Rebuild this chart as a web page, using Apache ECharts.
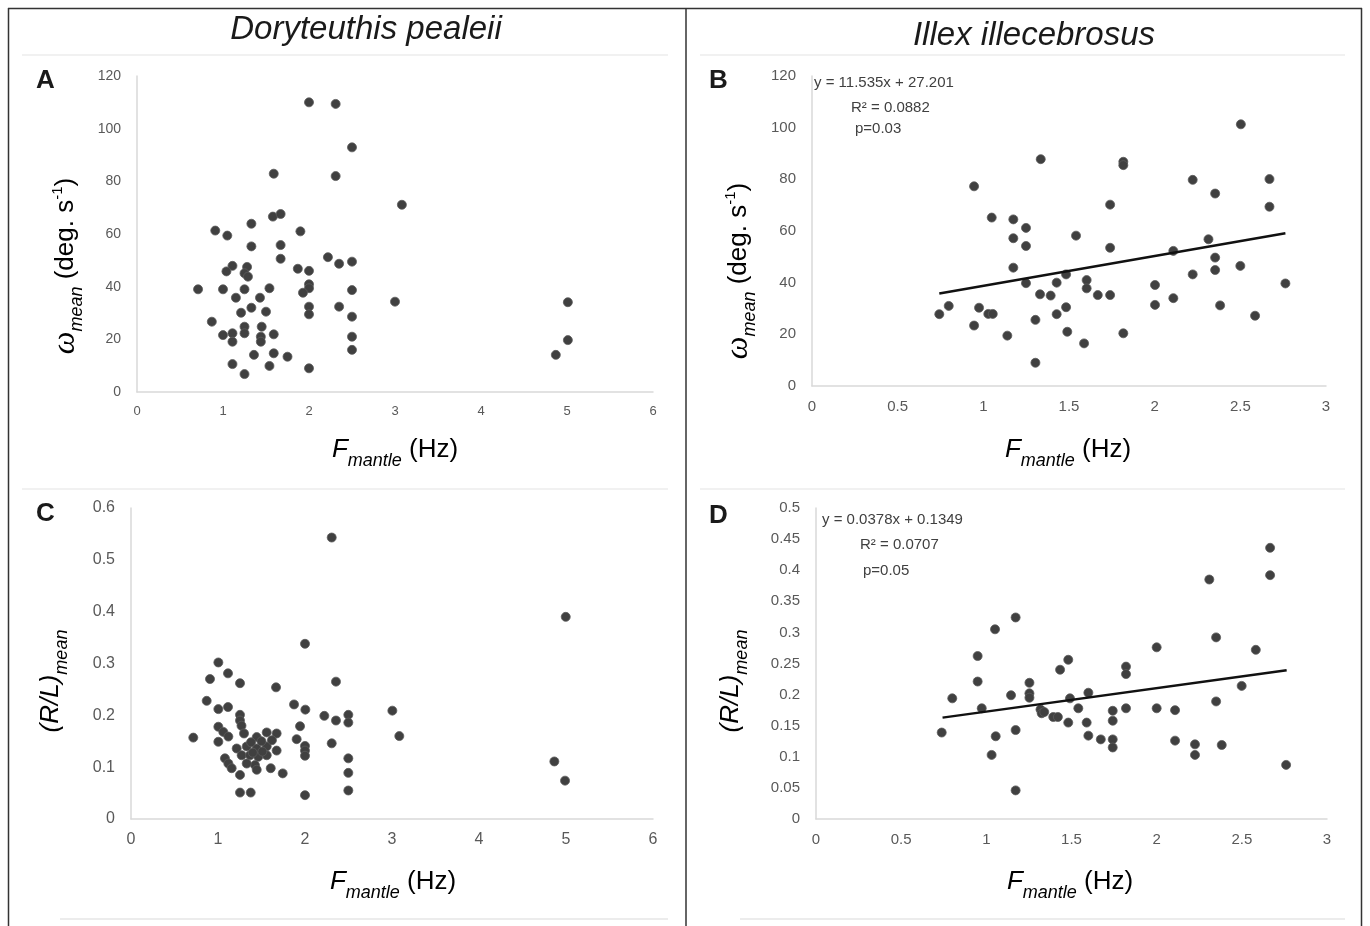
<!DOCTYPE html>
<html>
<head>
<meta charset="utf-8">
<script src="https://cdn.jsdelivr.net/npm/echarts@6/dist/echarts.min.js"></script>
<style>
html, body { margin: 0; padding: 0; background: #fff; }
#chart { width: 1370px; height: 926px; }
</style>
</head>
<body>
<div id="chart"></div>
<script>
// Doryteuthis pealeii: F_mantle (Hz) vs omega_mean (deg/s)
var pealeiiOmega = [
    [2.00,110.0],[2.31,109.4],[2.50,92.9],[1.59,82.9],[2.31,82.0],[3.08,71.1],[1.58,66.6],[1.67,67.6],
    [1.33,63.9],[0.91,61.3],[1.05,59.4],[1.90,61.0],[1.33,55.3],[1.67,55.8],[1.67,50.6],[2.22,51.2],
    [2.35,48.7],[2.50,49.5],[1.87,46.8],[2.00,46.0],[1.11,47.9],[1.04,45.8],[1.28,47.5],[1.25,45.1],
    [1.29,43.8],[0.71,39.0],[1.00,39.0],[1.25,39.0],[1.54,39.4],[1.15,35.8],[1.43,35.8],[2.00,40.9],
    [2.00,39.4],[1.93,37.7],[2.50,38.7],[3.00,34.3],[1.21,30.1],[1.33,32.0],[1.50,30.5],[2.00,32.4],
    [2.00,29.5],[2.35,32.4],[2.50,28.6],[0.87,26.7],[1.25,24.8],[1.25,22.3],[1.45,24.8],[1.00,21.6],
    [1.11,22.3],[1.11,19.1],[1.44,21.0],[1.44,19.1],[1.59,21.9],[2.50,21.0],[2.50,16.0],[1.36,14.1],
    [1.59,14.7],[1.75,13.4],[1.11,10.6],[1.25,6.8],[1.54,9.9],[2.00,9.0],[5.01,34.1],[5.01,19.7],
    [4.87,14.1]
];

// Illex illecebrosus: F_mantle (Hz) vs omega_mean (deg/s)
var illexOmega = [
    [1.335,87.8],[0.946,77.3],[1.049,65.2],[1.175,64.5],[1.249,61.2],[1.175,57.2],[1.249,54.2],[1.175,45.8],
    [1.249,39.8],[1.331,35.5],[1.393,35.0],[1.428,40.0],[1.483,43.2],[1.483,30.5],[1.428,27.8],[1.490,21.0],
    [0.743,27.8],[0.798,31.0],[0.975,30.3],[1.029,27.9],[1.055,27.9],[0.946,23.4],[1.140,19.5],[1.304,25.6],
    [1.304,9.0],[2.503,101.3],[1.817,86.8],[1.817,85.5],[2.222,79.8],[2.670,80.1],[2.353,74.5],[2.670,69.4],
    [1.740,70.2],[1.541,58.2],[1.740,53.5],[2.314,56.8],[2.109,52.3],[2.353,49.7],[2.353,44.9],[2.222,43.2],
    [2.500,46.5],[2.763,39.7],[1.603,41.0],[1.603,37.8],[1.668,35.2],[1.740,35.2],[2.002,39.1],[2.002,31.4],
    [2.109,34.0],[2.382,31.2],[2.586,27.2],[1.588,16.5],[1.817,20.4]
];
var illexOmegaTrend = [[0.743, 35.8], [2.763, 59.1]];

// Doryteuthis pealeii: F_mantle (Hz) vs (R/L)_mean
var pealeiiRL = [
    [2.307,0.543],[2.000,0.338],[1.004,0.302],[0.908,0.270],[1.115,0.281],[1.253,0.262],[1.667,0.254],[2.356,0.265],
    [0.870,0.228],[1.004,0.212],[1.115,0.216],[1.874,0.221],[2.004,0.211],[2.222,0.199],[2.356,0.190],[2.498,0.201],
    [2.498,0.186],[3.004,0.209],[3.084,0.160],[0.716,0.157],[1.253,0.201],[1.253,0.190],[1.270,0.180],[1.004,0.178],
    [1.061,0.168],[1.119,0.159],[1.004,0.149],[1.299,0.165],[1.943,0.179],[1.904,0.154],[2.000,0.141],[2.000,0.132],
    [2.000,0.122],[2.307,0.146],[2.498,0.117],[2.498,0.089],[2.498,0.055],[2.000,0.046],[1.253,0.051],[1.376,0.051],
    [1.445,0.158],[1.560,0.167],[1.674,0.165],[1.330,0.140],[1.445,0.136],[1.560,0.140],[1.674,0.132],[1.215,0.136],
    [1.272,0.123],[1.368,0.123],[1.463,0.120],[1.560,0.123],[1.080,0.117],[1.119,0.107],[1.157,0.098],[1.253,0.085],
    [1.425,0.104],[1.445,0.095],[1.606,0.098],[1.744,0.088],[1.330,0.107],[1.500,0.150],[1.380,0.148],[1.620,0.152],
    [1.510,0.130],[1.400,0.128],[4.997,0.390],[4.866,0.111],[4.989,0.074]
];

// Illex illecebrosus: F_mantle (Hz) vs (R/L)_mean
var illexRL = [
    [1.172,0.324],[1.051,0.305],[0.949,0.262],[0.949,0.221],[0.800,0.194],[0.973,0.178],[0.738,0.139],[1.055,0.133],
    [1.172,0.143],[1.031,0.103],[1.172,0.046],[1.145,0.199],[1.253,0.219],[1.253,0.202],[1.253,0.195],[1.318,0.176],
    [1.325,0.170],[1.340,0.172],[1.433,0.240],[1.481,0.256],[1.393,0.164],[1.420,0.164],[1.481,0.155],[1.491,0.194],
    [1.540,0.178],[1.599,0.203],[1.589,0.155],[1.599,0.134],[1.672,0.128],[1.742,0.174],[1.742,0.158],[1.742,0.128],
    [1.742,0.115],[1.820,0.245],[1.820,0.233],[1.820,0.178],[2.000,0.276],[2.000,0.178],[2.108,0.175],[2.108,0.126],
    [2.225,0.120],[2.225,0.103],[2.309,0.385],[2.349,0.292],[2.349,0.189],[2.382,0.119],[2.499,0.214],[2.582,0.272],
    [2.666,0.436],[2.666,0.392],[2.760,0.087]
];
var illexRLTrend = [[0.743, 0.163], [2.763, 0.239]];

var speciesTitles = ['Doryteuthis pealeii', 'Illex illecebrosus'];
var panelLetters = ['A', 'B', 'C', 'D'];
var trendTexts = [
    ['y = 11.535x + 27.201', 'R\u00b2 = 0.0882', 'p=0.03'],
    ['y = 0.0378x + 0.1349', 'R\u00b2 = 0.0707', 'p=0.05']
];

var labelFont = "'Liberation Sans Narrow', 'Liberation Sans', Arial, sans-serif";
var labelColor = '#595959';
var axisLineColor = '#d9d9d9';

function makeX(idx, max, step, size) {
    return {
        gridIndex: idx, type: 'value', min: 0, max: max, interval: step,
        axisLine: { show: true, lineStyle: { color: axisLineColor, width: 1.5 } },
        axisTick: { show: false },
        splitLine: { show: false },
        axisLabel: { color: labelColor, fontSize: size, fontFamily: labelFont, margin: 13 }
    };
}
function makeY(idx, max, step, size) {
    return {
        gridIndex: idx, type: 'value', min: 0, max: max, interval: step,
        axisLine: { show: true, lineStyle: { color: axisLineColor, width: 1.5 } },
        axisTick: { show: false },
        splitLine: { show: false },
        axisLabel: { color: labelColor, fontSize: size, fontFamily: labelFont, margin: 16 }
    };
}
function dots(idx, data) {
    return {
        type: 'scatter', xAxisIndex: idx, yAxisIndex: idx, data: data,
        symbolSize: 9,
        itemStyle: { color: '#404040', borderColor: '#5a5a5a', borderWidth: 0.8, opacity: 1 }
    };
}
function trend(idx, data) {
    return {
        type: 'line', xAxisIndex: idx, yAxisIndex: idx, data: data,
        symbol: 'none', silent: true, z: 3,
        lineStyle: { color: '#111', width: 2.5 }
    };
}

var richSub = {
    it: { fontFamily: 'Liberation Sans', fontStyle: 'italic', fontSize: 26, color: '#404040', lineHeight: 40, verticalAlign: 'middle' },
    n: { fontFamily: 'Liberation Sans', fontSize: 26, color: '#404040', lineHeight: 40, verticalAlign: 'middle' },
    sub: { fontFamily: 'Liberation Sans', fontStyle: 'italic', fontSize: 18, color: '#404040', lineHeight: 40, verticalAlign: 'bottom' },
    sup: { fontFamily: 'Liberation Sans', fontSize: 15, color: '#404040', lineHeight: 40, verticalAlign: 'top', padding: [4, 0, 0, 0] },
    om: { fontFamily: 'Liberation Serif', fontStyle: 'italic', fontSize: 32, color: '#404040', lineHeight: 40, verticalAlign: 'middle' }
};
var xName = '{it|F}{sub|mantle}{n| (Hz)}';
var omegaName = '{om|\u03c9}{sub|mean}{n| (deg. s}{sup|-1}{n|)}';
var rlName = '{it|(R/L)}{sub|mean}';

function axisTitle(x, y, text, rotate) {
    return {
        type: 'text', x: x, y: y, rotation: rotate ? Math.PI / 2 : 0, z: 10,
        style: { text: text, rich: richSub, align: 'center', verticalAlign: 'middle',
                 textAlign: 'center', textVerticalAlign: 'middle' }
    };
}
function plainText(x, y, text, font, align, color) {
    return {
        type: 'text', x: x, y: y, z: 10,
        style: { text: text, font: font, fill: color || '#1a1a1a', align: align || 'left', verticalAlign: 'middle',
                 textAlign: align || 'left', textVerticalAlign: 'middle' }
    };
}
function line(x1, y1, x2, y2, color, w) {
    return { type: 'line', shape: { x1: x1, y1: y1, x2: x2, y2: y2 }, z: 1,
             style: { stroke: color, lineWidth: w } };
}

var graphics = [
    // frame
    line(8, 8.5, 1362, 8.5, '#333', 1.5),
    line(8.5, 8, 8.5, 926, '#333', 1.5),
    line(1361.5, 8, 1361.5, 926, '#333', 1.5),
    line(686, 8, 686, 926, '#333', 1.5),
    // faint chart-area borders
    line(22, 55, 668, 55, '#ececec', 1.5),
    line(700, 55, 1345, 55, '#ececec', 1.5),
    line(22, 489, 668, 489, '#ececec', 1.5),
    line(700, 489, 1345, 489, '#ececec', 1.5),
    line(60, 919, 668, 919, '#e6e6e6', 1.5),
    line(740, 919, 1345, 919, '#e6e6e6', 1.5),
    // species titles
    plainText(366, 30, speciesTitles[0], 'italic 33px Liberation Sans', 'center'),
    plainText(1034, 36, speciesTitles[1], 'italic 33px Liberation Sans', 'center'),
    // panel letters
    plainText(36, 81, panelLetters[0], 'bold 26px Liberation Sans'),
    plainText(709, 81, panelLetters[1], 'bold 26px Liberation Sans'),
    plainText(36, 514, panelLetters[2], 'bold 26px Liberation Sans'),
    plainText(709, 516, panelLetters[3], 'bold 26px Liberation Sans'),
    // trend annotations
    plainText(814, 83, trendTexts[0][0], '15px ' + labelFont, 'left', '#404040'),
    plainText(851, 108, trendTexts[0][1], '15px ' + labelFont, 'left', '#404040'),
    plainText(855, 129, trendTexts[0][2], '15px ' + labelFont, 'left', '#404040'),
    plainText(822, 520, trendTexts[1][0], '15px ' + labelFont, 'left', '#404040'),
    plainText(860, 545, trendTexts[1][1], '15px ' + labelFont, 'left', '#404040'),
    plainText(863, 571, trendTexts[1][2], '15px ' + labelFont, 'left', '#404040'),
    // axis titles
    axisTitle(395, 450, xName, false),
    axisTitle(1068, 450, xName, false),
    axisTitle(393, 882, xName, false),
    axisTitle(1070, 882, xName, false),
    axisTitle(66, 266, omegaName, true),
    axisTitle(739, 271, omegaName, true),
    axisTitle(51, 681, rlName, true),
    axisTitle(731, 681, rlName, true)
];

var chart = echarts.init(document.getElementById('chart'), null, { renderer: 'canvas' });
var option = {
    backgroundColor: '#fff',
    animation: false,
    grid: [
        { left: 137, top: 76, width: 516, height: 316 },
        { left: 812, top: 76, width: 514, height: 310 },
        { left: 131, top: 508, width: 522, height: 311 },
        { left: 816, top: 508, width: 511, height: 311 }
    ],
    xAxis: [makeX(0, 6, 1, 13), makeX(1, 3, 0.5, 15), makeX(2, 6, 1, 16), makeX(3, 3, 0.5, 15)],
    yAxis: [makeY(0, 120, 20, 14), makeY(1, 120, 20, 15), makeY(2, 0.6, 0.1, 16), makeY(3, 0.5, 0.05, 15)],
    series: [
        dots(0, pealeiiOmega),
        dots(1, illexOmega), trend(1, illexOmegaTrend),
        dots(2, pealeiiRL),
        dots(3, illexRL), trend(3, illexRLTrend)
    ],
    graphic: graphics
};
chart.setOption(option);
</script>
</body>
</html>
